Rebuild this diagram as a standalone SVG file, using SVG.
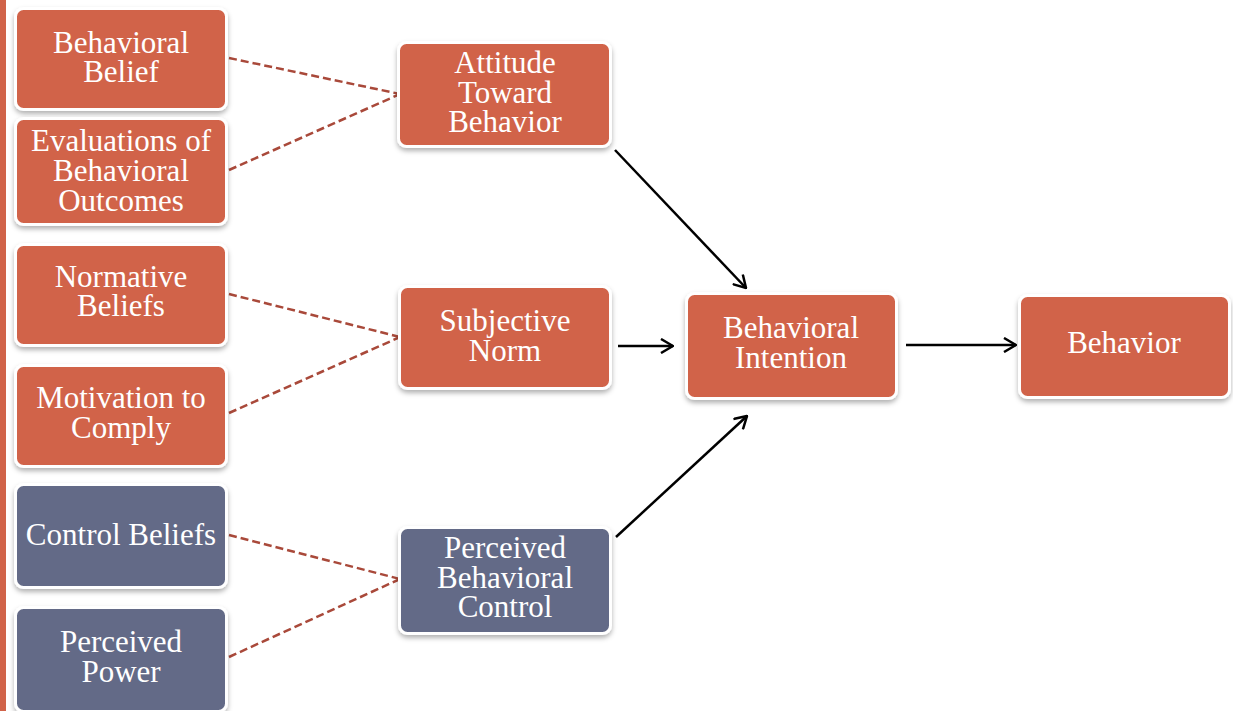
<svg xmlns="http://www.w3.org/2000/svg" width="1233" height="711" viewBox="0 0 1233 711">
<style>
.box{stroke:#ffffff;stroke-width:3;filter:url(#sh)}
.o{fill:#D16349}
.s{fill:#646B87}
.t{font-family:"Liberation Serif","Times New Roman",serif;font-size:31px;fill:#ffffff;text-anchor:middle}
.d{fill:none;stroke:#A9493A;stroke-width:2.5;stroke-dasharray:8 4}
.a{fill:none;stroke:#000000;stroke-width:2.5;marker-end:url(#ah)}
</style>
<defs>
<filter id="sh" x="-10%" y="-10%" width="120%" height="130%">
<feDropShadow dx="0" dy="3" stdDeviation="2.5" flood-color="#000000" flood-opacity="0.3"/>
</filter>
<marker id="ah" viewBox="0 0 14 16" refX="13" refY="8" markerWidth="14" markerHeight="16" markerUnits="userSpaceOnUse" orient="auto">
<path d="M1,1 L13,8 L1,15" fill="none" stroke="#000000" stroke-width="2.5"/>
</marker>
</defs>
<rect x="0" y="0" width="1233" height="711" fill="#ffffff"/>
<rect x="0" y="0" width="6" height="711" fill="#D16349"/>

<g id="connectors">
<line class="d" x1="229" y1="58" x2="400" y2="94"/>
<line class="d" x1="229" y1="170" x2="400" y2="94"/>
<line class="d" x1="229" y1="294" x2="400" y2="337"/>
<line class="d" x1="229" y1="413" x2="400" y2="337"/>
<line class="d" x1="229" y1="535" x2="400" y2="579"/>
<line class="d" x1="229" y1="657" x2="400" y2="579"/>
<line class="a" x1="615" y1="150" x2="746" y2="288"/>
<line class="a" x1="618" y1="346" x2="673" y2="346"/>
<line class="a" x1="906" y1="345" x2="1016" y2="345"/>
<line class="a" x1="616" y1="537" x2="747" y2="416"/>
</g>

<g id="behavioral-belief">
<rect class="box o" x="15.5" y="8.5" width="211" height="101" rx="8"/>
<text class="t" x="121" y="53">Behavioral</text>
<text class="t" x="121" y="82">Belief</text>
</g>
<g id="evaluations">
<rect class="box o" x="15.5" y="118.5" width="211" height="106" rx="8"/>
<text class="t" x="121" y="151">Evaluations of</text>
<text class="t" x="121" y="181">Behavioral</text>
<text class="t" x="121" y="211">Outcomes</text>
</g>
<g id="normative-beliefs">
<rect class="box o" x="15.5" y="244.5" width="211" height="101" rx="8"/>
<text class="t" x="121" y="287">Normative</text>
<text class="t" x="121" y="316">Beliefs</text>
</g>
<g id="motivation">
<rect class="box o" x="15.5" y="365.5" width="211" height="101" rx="8"/>
<text class="t" x="121" y="408">Motivation to</text>
<text class="t" x="121" y="438">Comply</text>
</g>
<g id="control-beliefs">
<rect class="box s" x="15.5" y="484.5" width="211" height="103" rx="8"/>
<text class="t" x="121" y="545">Control Beliefs</text>
</g>
<g id="perceived-power">
<rect class="box s" x="15.5" y="607.5" width="211" height="104" rx="8"/>
<text class="t" x="121" y="652">Perceived</text>
<text class="t" x="121" y="682">Power</text>
</g>
<g id="attitude">
<rect class="box o" x="398.5" y="42.5" width="212" height="104" rx="8"/>
<text class="t" x="505" y="73">Attitude</text>
<text class="t" x="505" y="103">Toward</text>
<text class="t" x="505" y="132">Behavior</text>
</g>
<g id="subjective-norm">
<rect class="box o" x="399.5" y="286.5" width="211" height="102" rx="8"/>
<text class="t" x="505" y="331">Subjective</text>
<text class="t" x="505" y="361">Norm</text>
</g>
<g id="pbc">
<rect class="box s" x="399.5" y="527.5" width="211" height="106" rx="8"/>
<text class="t" x="505" y="558">Perceived</text>
<text class="t" x="505" y="588">Behavioral</text>
<text class="t" x="505" y="617">Control</text>
</g>
<g id="behavioral-intention">
<rect class="box o" x="686.5" y="293.5" width="210" height="105" rx="8"/>
<text class="t" x="791" y="338">Behavioral</text>
<text class="t" x="791" y="368">Intention</text>
</g>
<g id="behavior">
<rect class="box o" x="1019.5" y="295.5" width="210" height="102" rx="8"/>
<text class="t" x="1124" y="353">Behavior</text>
</g>
</svg>
